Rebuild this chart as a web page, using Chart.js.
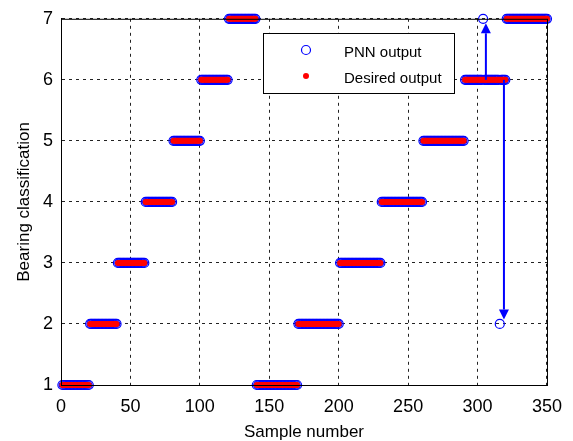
<!DOCTYPE html>
<html>
<head>
<meta charset="utf-8">
<script src="https://cdn.jsdelivr.net/npm/chart.js@4"></script>
<style>
  html, body { margin: 0; padding: 0; background: #fff; }
  #wrap { width: 573px; height: 441px; }
</style>
</head>
<body>
<div id="wrap"><canvas id="pnnChart"></canvas></div>
<script>
// sample blocks (run length of the desired class)
const blockStart = [1, 21, 41, 61, 81, 101, 121, 141, 171, 201, 231, 261, 291, 321];
const blockEnd   = [20, 40, 60, 80, 100, 120, 140, 170, 200, 230, 260, 290, 320, 350];
const blockClass = [1, 2, 3, 4, 5, 6, 7, 1, 2, 3, 4, 5, 6, 7];

// samples the PNN got wrong
const wrongSample = [304, 316];
const wrongClass  = [7, 2];

// annotation arrows
const arrowX    = [306, 319];
const arrowFrom = [6, 6];
const arrowTo   = [7, 2];

const xTicks = [0, 50, 100, 150, 200, 250, 300, 350];
const yTicks = [1, 2, 3, 4, 5, 6, 7];

const desired = [];
blockStart.forEach((s, i) => {
  for (let n = s; n <= blockEnd[i]; n++) desired.push({ x: n, y: blockClass[i] });
});
const pnn = desired.map(p => {
  const k = wrongSample.indexOf(p.x);
  return { x: p.x, y: k >= 0 ? wrongClass[k] : p.y };
});

const overlay = {
  id: 'overlay',
  afterDatasetsDraw(chart) {
    const { ctx, scales: { x, y } } = chart;
    ctx.save();
    ctx.strokeStyle = '#0000ff';
    ctx.fillStyle = '#0000ff';
    ctx.lineWidth = 2;
    arrowX.forEach((ax, i) => {
      const px = x.getPixelForValue(ax);
      const y0 = y.getPixelForValue(arrowFrom[i]);
      const dir = arrowTo[i] > arrowFrom[i] ? -1 : 1;
      const tip = y.getPixelForValue(arrowTo[i]) - dir * 4.5;
      const base = tip - dir * 10;
      ctx.beginPath();
      ctx.moveTo(px, y0);
      ctx.lineTo(px, base);
      ctx.stroke();
      ctx.beginPath();
      ctx.moveTo(px, tip);
      ctx.lineTo(px - 5, base);
      ctx.lineTo(px + 5, base);
      ctx.closePath();
      ctx.fill();
    });
    ctx.restore();
  },
  afterDraw(chart) {
    const { ctx, chartArea: a } = chart;
    ctx.save();
    ctx.strokeStyle = '#000';
    ctx.lineWidth = 1;
    ctx.strokeRect(a.left + 0.5, a.top + 0.5, a.right - a.left, a.bottom - a.top);

    // legend box
    const lx = 263, ly = 33, lw = 191, lh = 60;
    ctx.fillStyle = '#fff';
    ctx.fillRect(lx, ly, lw, lh);
    ctx.strokeRect(lx + 0.5, ly + 0.5, lw, lh);
    ctx.beginPath();
    ctx.arc(306, 50, 4.5, 0, Math.PI * 2);
    ctx.strokeStyle = '#0000ff';
    ctx.lineWidth = 1.2;
    ctx.stroke();
    ctx.beginPath();
    ctx.arc(306, 76, 3, 0, Math.PI * 2);
    ctx.fillStyle = '#ff0000';
    ctx.fill();
    ctx.fillStyle = '#000';
    ctx.font = '15px "Liberation Sans", Arial, sans-serif';
    ctx.textBaseline = 'middle';
    ctx.fillText('PNN output', 344, 53);
    ctx.fillText('Desired output', 344, 79);
    ctx.restore();
  }
};

const font = '"Liberation Sans", Arial, sans-serif';
const gridStyle = { color: '#222', lineWidth: 1, drawTicks: false };
const borderStyle = { display: true, color: '#000', width: 1, dash: [3, 4] };

new Chart(document.getElementById('pnnChart').getContext('2d'), {
  type: 'scatter',
  data: {
    datasets: [{
      label: 'PNN output',
      data: pnn,
      pointStyle: 'circle',
      pointRadius: 4.5,
      pointBorderWidth: 1.2,
      borderColor: '#0000ff',
      backgroundColor: 'rgba(0,0,0,0)',
      clip: false,
      order: 1
    }, {
      label: 'Desired output',
      data: desired,
      pointRadius: 3,
      pointBorderWidth: 0,
      borderColor: '#ff0000',
      backgroundColor: '#ff0000',
      clip: false,
      order: 0
    }]
  },
  options: {
    responsive: true,
    maintainAspectRatio: false,
    animation: false,
    layout: { padding: { left: 0, right: 21, top: 18, bottom: 0 } },
    plugins: { legend: { display: false }, tooltip: { enabled: false } },
    scales: {
      x: {
        type: 'linear', min: 0, max: 350,
        afterBuildTicks: s => { s.ticks = xTicks.map(v => ({ value: v })); },
        afterFit: s => { s.height = 56; },
        ticks: { color: '#000', padding: 11, maxRotation: 0, font: { size: 18, family: font } },
        grid: gridStyle,
        border: borderStyle,
        title: { display: true, text: 'Sample number', color: '#000', padding: { top: 0, bottom: 0 },
                 font: { size: 17, lineHeight: 1.05, family: font } }
      },
      y: {
        type: 'linear', min: 1, max: 7,
        afterBuildTicks: s => { s.ticks = yTicks.map(v => ({ value: v })); },
        afterFit: s => { s.width = 61; },
        ticks: { color: '#000', padding: 8, font: { size: 18, family: font } },
        grid: gridStyle,
        border: borderStyle,
        title: { display: true, text: 'Bearing classification', color: '#000', padding: { top: 14, bottom: 0 },
                 font: { size: 17, lineHeight: 1.2, family: font } }
      }
    }
  },
  plugins: [overlay]
});
</script>
</body>
</html>
